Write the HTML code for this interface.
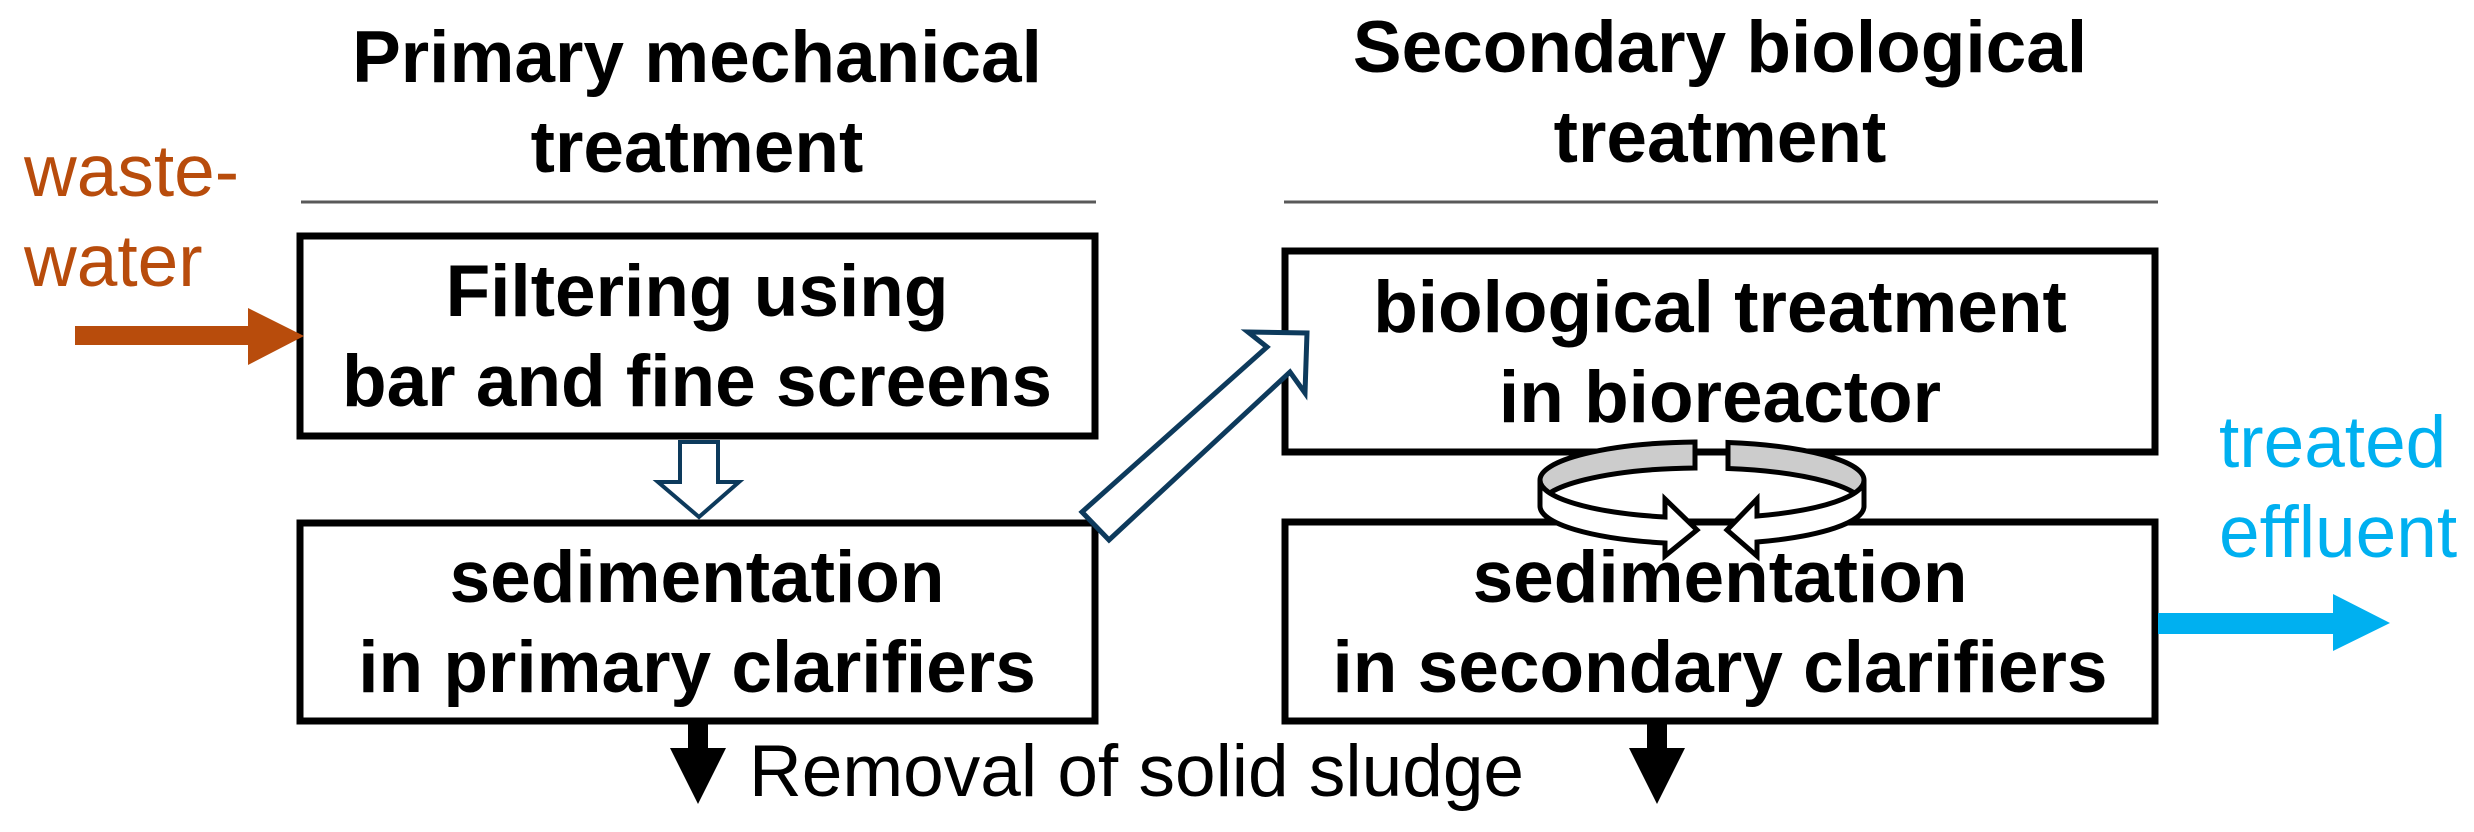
<!DOCTYPE html>
<html><head><meta charset="utf-8"><style>
html,body{margin:0;padding:0;background:#fff;}
svg{display:block;}
text{font-family:"Liberation Sans",Arial,sans-serif;font-size:73px;}
.b{font-weight:bold;fill:#000;}
</style></head><body>
<svg width="2474" height="832" viewBox="0 0 2474 832" xmlns="http://www.w3.org/2000/svg">
<!-- titles -->
<text class="b" x="697" y="82" text-anchor="middle">Primary mechanical</text>
<text class="b" x="697" y="172" text-anchor="middle">treatment</text>
<text class="b" x="1720" y="72" text-anchor="middle">Secondary biological</text>
<text class="b" x="1720" y="162" text-anchor="middle">treatment</text>
<line x1="301" y1="202" x2="1096" y2="202" stroke="#595959" stroke-width="3"/>
<line x1="1284" y1="202" x2="2158" y2="202" stroke="#595959" stroke-width="3"/>

<!-- boxes -->
<rect x="300" y="236" width="795" height="200" fill="none" stroke="#000" stroke-width="7"/>
<rect x="300" y="523" width="795" height="198" fill="none" stroke="#000" stroke-width="7"/>
<rect x="1285" y="251" width="870" height="201" fill="none" stroke="#000" stroke-width="7"/>
<rect x="1285" y="522" width="870" height="199" fill="none" stroke="#000" stroke-width="7"/>

<text class="b" x="697" y="316" text-anchor="middle">Filtering using</text>
<text class="b" x="697" y="406" text-anchor="middle">bar and fine screens</text>
<text class="b" x="697" y="602" text-anchor="middle">sedimentation</text>
<text class="b" x="697" y="692" text-anchor="middle">in primary clarifiers</text>
<text class="b" x="1720" y="332" text-anchor="middle">biological treatment</text>
<text class="b" x="1720" y="422" text-anchor="middle">in bioreactor</text>
<text class="b" x="1720" y="602" text-anchor="middle">sedimentation</text>
<text class="b" x="1720" y="692" text-anchor="middle">in secondary clarifiers</text>

<!-- wastewater -->
<text x="24" y="196" fill="#b84c0c">waste-</text>
<text x="24" y="286" fill="#b84c0c">water</text>
<polygon points="75,326 248,326 248,308 304,336 248,365 248,345 75,345" fill="#b84c0c"/>

<!-- treated effluent -->
<text x="2219" y="467" fill="#00b0f0">treated</text>
<text x="2219" y="557" fill="#00b0f0">effluent</text>
<polygon points="2158,613 2333,613 2333,594 2390,623 2333,651 2333,634 2158,634" fill="#00b0f0"/>

<!-- hollow down arrow -->
<polygon points="680,442 718,442 718,482 739,482 699,517 658,482 680,482" fill="#fff" stroke="#0d3a5c" stroke-width="4"/>

<!-- diagonal hollow arrow -->
<polygon points="1082,512 1267,347 1248,332 1307,333 1305,393 1290,372 1109,540" fill="#fff" stroke="#0d3a5c" stroke-width="5" stroke-linejoin="miter"/>

<!-- black down arrows -->
<polygon points="688,724 708,724 708,748 726,748 698,804 670,748 688,748" fill="#000"/>
<polygon points="1647,724 1667,724 1667,748 1685,748 1657,804 1629,748 1647,748" fill="#000"/>
<text x="749" y="796" fill="#000">Removal of solid sludge</text>

<!-- circular arrow -->
<g stroke="#000" stroke-width="5" stroke-linejoin="miter">
<path d="M1540,480 A162,38 0 0 1 1695,442 L1695,468 A162,38 0 0 0 1540,506 Z" fill="#cccccc"/>
<path d="M1728,442.5 A162,38 0 0 1 1864,480 L1864,506 A162,38 0 0 0 1728,468.5 Z" fill="#cccccc"/>
<path d="M1540,480 A162,38 0 0 0 1665,517 L1665,499 L1697,530 L1665,556 L1665,543 A162,38 0 0 1 1540,506 Z" fill="#fff"/>
<path d="M1864,480 A162,38 0 0 1 1757,516 L1757,499 L1727,530 L1757,556 L1757,542 A162,38 0 0 0 1864,506 Z" fill="#fff"/>
</g>
</svg>
</body></html>
